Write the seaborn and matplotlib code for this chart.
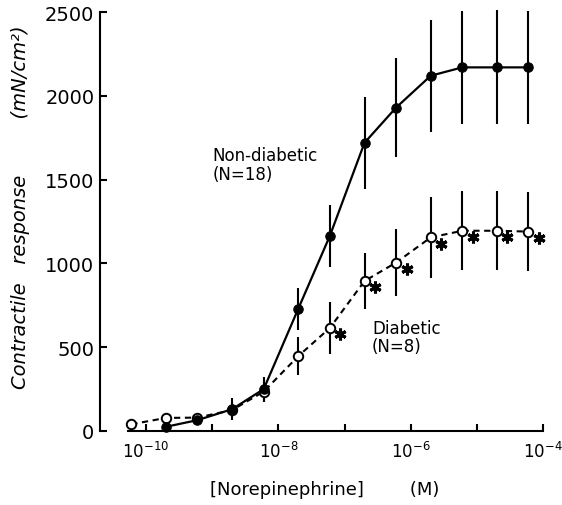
import numpy as np
import pandas as pd
import matplotlib
matplotlib.use("Agg")
import matplotlib.pyplot as plt
import seaborn as sns
from matplotlib.ticker import NullLocator
from matplotlib.transforms import offset_copy

# =========================
# DATA
# =========================

conc = [6e-11, 2e-10, 6e-10, 2e-9, 6e-9, 2e-8, 6e-8,
        2e-7, 6e-7, 2e-6, 6e-6, 2e-5, 6e-5]

# non-diabetic starts at the second concentration
nondiab_conc = conc[1:]
nondiab_mean = [25, 65, 130, 250, 730, 1165, 1720, 1930, 2120, 2170, 2170, 2170]
nondiab_err = [15, 30, 65, 75, 125, 185, 275, 295, 335, 338, 340, 335]

diab_mean = [40, 78, 80, 125, 235, 447, 615, 895, 1005, 1155, 1195, 1195, 1190]
diab_err = [10, 18, 30, 45, 60, 115, 155, 165, 200, 240, 236, 237, 235]
diab_signif = [False, False, False, False, False, False, True,
               True, True, True, True, True, True]

ytick_vals = [0, 500, 1000, 1500, 2000, 2500]
xtick_vals = [1e-10, 1e-9, 1e-8, 1e-7, 1e-6, 1e-5, 1e-4]
xtick_labels = [r"$10^{-10}$", "", r"$10^{-8}$", "", r"$10^{-6}$", "", r"$10^{-4}$"]

df_nd = pd.DataFrame({"conc": nondiab_conc, "resp": nondiab_mean})
df_d = pd.DataFrame({"conc": conc, "resp": diab_mean})

# =========================
# FIGURE
# =========================

sns.set_style("ticks")
plt.rcParams["font.family"] = ["DejaVu Sans"]
plt.rcParams["text.color"] = "black"
plt.rcParams["axes.labelcolor"] = "black"

fig = plt.figure(figsize=(5.62, 5.06), dpi=100)
ax = fig.add_axes([0.178, 0.1383, 0.801, 0.8458])
ax.set_xscale("log")

# error bars first (behind markers)
ax.errorbar(nondiab_conc, nondiab_mean, yerr=nondiab_err, fmt="none",
            ecolor="black", elinewidth=1.5, capsize=0, zorder=1)
ax.errorbar(conc, diab_mean, yerr=diab_err, fmt="none",
            ecolor="black", elinewidth=1.5, capsize=0, zorder=1)

sns.lineplot(data=df_d, x="conc", y="resp", ax=ax, color="black",
             linewidth=1.5, linestyle=(0, (3, 2.2)), marker="o", markersize=6.8,
             markerfacecolor="white", markeredgecolor="black",
             markeredgewidth=1.4, zorder=3)
sns.lineplot(data=df_nd, x="conc", y="resp", ax=ax, color="black",
             linewidth=1.6, marker="o", markersize=6.8,
             markerfacecolor="black", markeredgecolor="black", zorder=4)

# asterisks next to significant diabetic points
star_trans = offset_copy(ax.transData, fig=fig, x=7.5, y=-4.5, units="points")
star_x = [c for c, s in zip(conc, diab_signif) if s]
star_y = [v for v, s in zip(diab_mean, diab_signif) if s]
ax.plot(star_x, star_y, linestyle="none", marker=(6, 2, 0), markersize=8.5,
        markeredgewidth=2.2, color="black", transform=star_trans, zorder=5)

# labels for the curves
ax.text(1.0e-9, 1700, "Non-diabetic\n(N=18)", fontsize=12, va="top",
        ha="left", linespacing=1.05)
ax.text(2.6e-7, 670, "Diabetic\n(N=8)", fontsize=12, va="top",
        ha="left", linespacing=1.05)

# axes
ax.set_xlim(10 ** -10.694, 10 ** -3.894)
ax.set_ylim(-24, 2530)
ax.set_xticks(xtick_vals)
ax.set_xticklabels(xtick_labels)
ax.xaxis.set_minor_locator(NullLocator())
ax.set_yticks(ytick_vals)
ax.set_yticklabels([str(v) for v in ytick_vals])

ax.spines["top"].set_visible(False)
ax.spines["right"].set_visible(False)
ax.spines["bottom"].set_position(("data", 0))
ax.spines["bottom"].set_bounds(10 ** -10.27, 1e-4)
ax.spines["left"].set_bounds(0, 2500)
for s in ["left", "bottom"]:
    ax.spines[s].set_linewidth(1.5)
    ax.spines[s].set_color("black")

ax.tick_params(axis="both", direction="in", length=5, width=1.5, colors="black")
ax.tick_params(axis="y", pad=4, labelsize=14)
ax.tick_params(axis="x", pad=7, labelsize=12)

ax.set_xlabel("[Norepinephrine]        (M)", fontsize=13, labelpad=14)
ax.set_ylabel("Contractile   response         (mN/cm²)", fontsize=14,
              style="italic")
ax.yaxis.set_label_coords(-0.155, 0.535)

fig.savefig("out.png", dpi=100)
